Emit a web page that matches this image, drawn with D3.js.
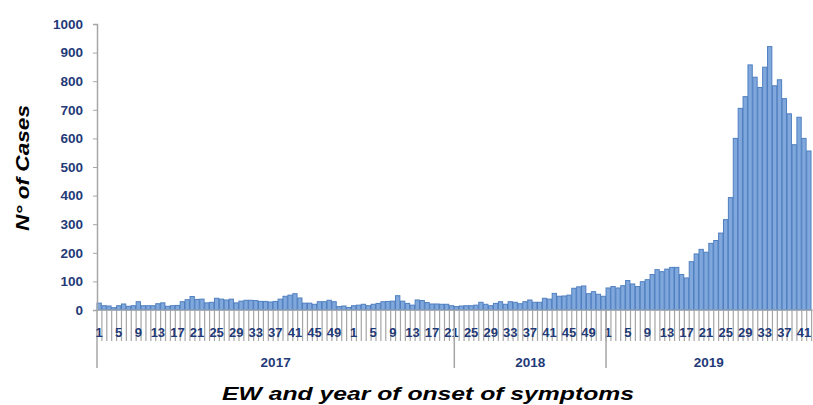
<!DOCTYPE html>
<html>
<head>
<meta charset="utf-8">
<script src="https://cdn.jsdelivr.net/npm/d3@7"></script>
<style>
  body { margin: 0; background: #fff; }
  svg { display: block; font-family: "Liberation Sans", Arial, sans-serif; }
</style>
</head>
<body>
<svg id="canvas" width="813" height="405"></svg>
<script>
// weekly cases by epidemiological week
let cases2017 = [24, 15, 14, 8, 15, 21, 13, 15, 29, 15, 15, 15, 22, 25, 13, 15, 16, 29, 36, 47,
    37, 38, 25, 27, 41, 38, 35, 38, 25, 31, 34, 34, 33, 30, 30, 28, 30, 38, 48, 52,
    57, 42, 24, 24, 20, 29, 29, 34, 29, 12, 14, 9]
let cases2018 = [15, 17, 20, 15, 20, 23, 29, 30, 31, 50, 31, 23, 17, 35, 33, 26, 21, 21, 20, 20,
    15, 12, 14, 15, 15, 17, 27, 20, 15, 23, 29, 20, 29, 27, 22, 29, 35, 27, 27, 41,
    38, 58, 48, 49, 52, 76, 81, 84, 57, 64, 55, 48]
let cases2019 = [77, 82, 77, 85, 103, 91, 82, 99, 106, 124, 141, 134, 143, 149, 149, 124, 112, 169, 196, 212,
    202, 233, 243, 269, 316, 393, 600, 705, 746, 857, 814, 778, 849, 921, 784, 805, 739, 686, 578, 674,
    600, 556]

let years = ['2017', '2018', '2019']
let yearBreaks = [0, 73, 104, 146] // where the year groups start on the axis
let yTicks = [0, 100, 200, 300, 400, 500, 600, 700, 800, 900, 1000]
let labelWeeks = [1, 5, 9, 13, 17, 21, 25, 29, 33, 37, 41, 45, 49]

let weeks = []
;[cases2017, cases2018, cases2019].forEach((arr, yi) => {
    arr.forEach((v, i) => weeks.push({ year: years[yi], week: i + 1, value: v }))
})

let canvas = d3.select('#canvas')

let x = d3.scaleBand().domain(d3.range(weeks.length)).range([97, 811]).paddingInner(0.12)
let y = d3.scaleLinear().domain([0, 1000]).range([310, 24])

let axisGrey = '#a6a6a6'
let labelBlue = '#1f3a78'

// bars
canvas.selectAll('rect.bar')
    .data(weeks)
    .enter()
    .append('rect')
    .attr('class', 'bar')
    .attr('x', (d, i) => x(i))
    .attr('width', x.bandwidth())
    .attr('y', d => y(d.value))
    .attr('height', d => y(0) - y(d.value))
    .attr('fill', '#80a8dc')
    .attr('stroke', '#4f7fc0')
    .attr('stroke-width', 1)

// y axis
let yAxis = canvas.append('g')
    .attr('transform', 'translate(97,0)')
    .call(d3.axisLeft(y).tickValues(yTicks).tickFormat(d3.format('d')).tickSize(4).tickPadding(10))
yAxis.select('.domain').attr('stroke', axisGrey).attr('stroke-width', 1.5)
yAxis.selectAll('.tick line').attr('stroke', axisGrey)
yAxis.selectAll('.tick text')
    .attr('fill', labelBlue)
    .style('font-size', '13.5px')
    .style('font-weight', 'bold')

// long left line of the category axis
canvas.append('line')
    .attr('x1', 97).attr('x2', 97).attr('y1', 310).attr('y2', 368)
    .attr('stroke', axisGrey).attr('stroke-width', 1.5)

// category ticks between each week
let step = x.step()
canvas.selectAll('line.wtick')
    .data(d3.range(1, weeks.length + 1))
    .enter()
    .append('line')
    .attr('class', 'wtick')
    .attr('x1', i => 97 + i * step)
    .attr('x2', i => 97 + i * step)
    .attr('y1', 310).attr('y2', 341)
    .attr('stroke', axisGrey)
    .attr('stroke-width', 1.2)

// baseline
canvas.append('line')
    .attr('x1', 97).attr('x2', 813).attr('y1', 310).attr('y2', 310)
    .attr('stroke', axisGrey).attr('stroke-width', 1)

// week labels
canvas.selectAll('text.wlab')
    .data(weeks.map((d, i) => ({ ...d, i })).filter(d => labelWeeks.includes(d.week)))
    .enter()
    .append('text')
    .attr('class', 'wlab')
    .attr('x', d => x(d.i) + x.bandwidth() / 2)
    .attr('y', 337)
    .attr('text-anchor', 'middle')
    .attr('fill', labelBlue)
    .style('font-size', '13px')
    .style('font-weight', 'bold')
    .text(d => d.week)

// year group separators and labels
canvas.selectAll('line.ysep')
    .data(yearBreaks.slice(1, 3))
    .enter()
    .append('line')
    .attr('class', 'ysep')
    .attr('x1', b => 97 + b * step)
    .attr('x2', b => 97 + b * step)
    .attr('y1', 310).attr('y2', 368)
    .attr('stroke', axisGrey).attr('stroke-width', 1.5)

canvas.selectAll('text.ylab')
    .data(years)
    .enter()
    .append('text')
    .attr('class', 'ylab')
    .attr('x', (d, i) => 97 + (yearBreaks[i] + yearBreaks[i + 1]) / 2 * step)
    .attr('y', 367)
    .attr('text-anchor', 'middle')
    .attr('fill', labelBlue)
    .style('font-size', '13.5px')
    .style('font-weight', 'bold')
    .text(d => d)

// axis titles
canvas.append('text')
    .attr('transform', 'translate(29,168) rotate(-90)')
    .attr('text-anchor', 'middle')
    .attr('textLength', 126)
    .attr('lengthAdjust', 'spacingAndGlyphs')
    .style('font-size', '19px')
    .style('font-weight', 'bold')
    .style('font-style', 'italic')
    .text('N° of Cases')

canvas.append('text')
    .attr('x', 428)
    .attr('y', 400)
    .attr('text-anchor', 'middle')
    .attr('textLength', 412)
    .attr('lengthAdjust', 'spacingAndGlyphs')
    .style('font-size', '19px')
    .style('font-weight', 'bold')
    .style('font-style', 'italic')
    .text('EW and year of onset of symptoms')
</script>
</body>
</html>
